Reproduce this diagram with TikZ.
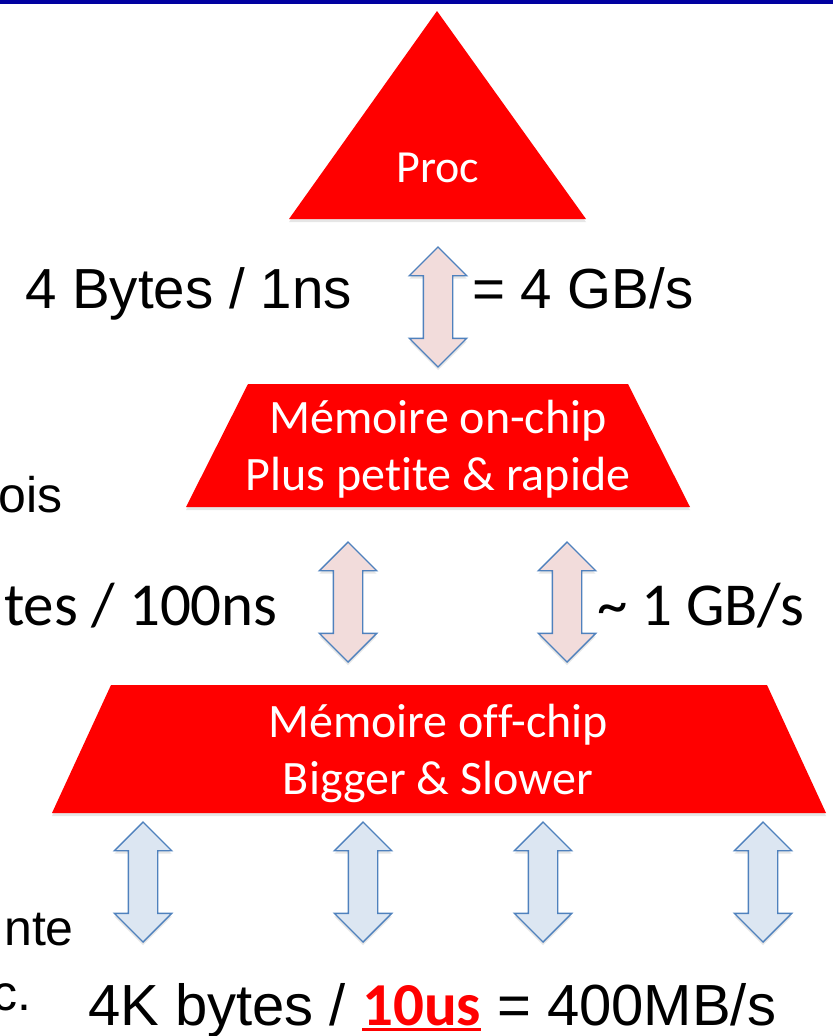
\documentclass[tikz,border=0pt]{standalone}
\usepackage{fontspec}
\setmainfont{Liberation Sans}
\newfontfamily\calibri{Carlito}[Ligatures=CommonOff]
\usetikzlibrary{shapes.arrows,shadows}
\newcommand\redline[1]{\setbox0\hbox{#1}\rlap{\rule[-6pt]{\wd0}{3pt}}\box0}

\begin{document}
\begin{tikzpicture}[x=1pt,y=-1pt,
  big/.style={font=\fontsize{56.5}{60}\selectfont, inner sep=0pt},
  bigc/.style={font=\fontsize{61}{66}\selectfont\calibri, inner sep=0pt},
  cut/.style={font=\fontsize{50}{54}\selectfont, inner sep=0pt},
  inside/.style={font=\fontsize{48}{57}\selectfont\calibri, text=white, align=center, inner sep=0pt},
  bidir/.style={double arrow, shape border rotate=90, draw=ArrowBlue, line width=1.4pt,
    inner xsep=14pt, inner ysep=0pt, minimum width=56pt, minimum height=120pt, double arrow head extend=14pt},
  shade/.style={drop shadow={shadow xshift=0pt, shadow yshift=-3pt, opacity=0.2}}]
\definecolor{TopBlue}{RGB}{0,0,160}
\definecolor{ArrowBlue}{RGB}{79,129,189}
\definecolor{PinkFill}{RGB}{242,220,219}
\definecolor{BlueFill}{RGB}{220,230,242}
\useasboundingbox (0,0) rectangle (833,1036);
\fill[TopBlue] (0,0) rectangle (833,4);
\fill[red, shade] (437,11) -- (586,219) -- (289,219) -- cycle;
\fill[red, shade] (248,384) -- (628,384) -- (690,507) -- (186,507) -- cycle;
\fill[red, shade] (111,685) -- (767,685) -- (826,813) -- (52,813) -- cycle;
\node[inside, anchor=base, font=\fontsize{46}{57}\selectfont\calibri] (proc) at (438,182) {Proc};
\node[inside] (onchip) at (438,449) {Mémoire on-chip\\Plus petite \& rapide};
\node[inside] (offchip) at (438,753) {Mémoire off-chip\\Bigger \& Slower};
\foreach \x/\y/\c [count=\i] in {438/307/PinkFill, 348/602/PinkFill, 567/602/PinkFill,
  143/882/BlueFill, 363/882/BlueFill, 543/882/BlueFill, 763/882/BlueFill}{
\node[bidir, fill=\c, shade] (link\i) at (\x,\y) {};
}
\node[big, anchor=base west] (rate1) at (25,308) {4 Bytes / 1ns};
\node[big, anchor=base west] (bw1) at (472,308) {= 4 GB/s};
\node[bigc, anchor=base east] (rate2) at (278,625) {tes / 100ns};
\node[bigc, anchor=base west] (bw2) at (597,625) {\textasciitilde{} 1 GB/s};
\node[big, anchor=base west, font=\fontsize{58}{60}\selectfont] (rate3) at (88,1025)
  {4K bytes / {\fontsize{61}{66}\selectfont\calibri\bfseries\color{red}\redline{10us}} = 400MB/s};
\node[cut, anchor=base east] (left1) at (63,512) {ois};
\node[cut, anchor=base east] (left2) at (74,945) {nte};
\node[cut, anchor=base east] (left3) at (32,1010) {c.};
\end{tikzpicture}
\end{document}
